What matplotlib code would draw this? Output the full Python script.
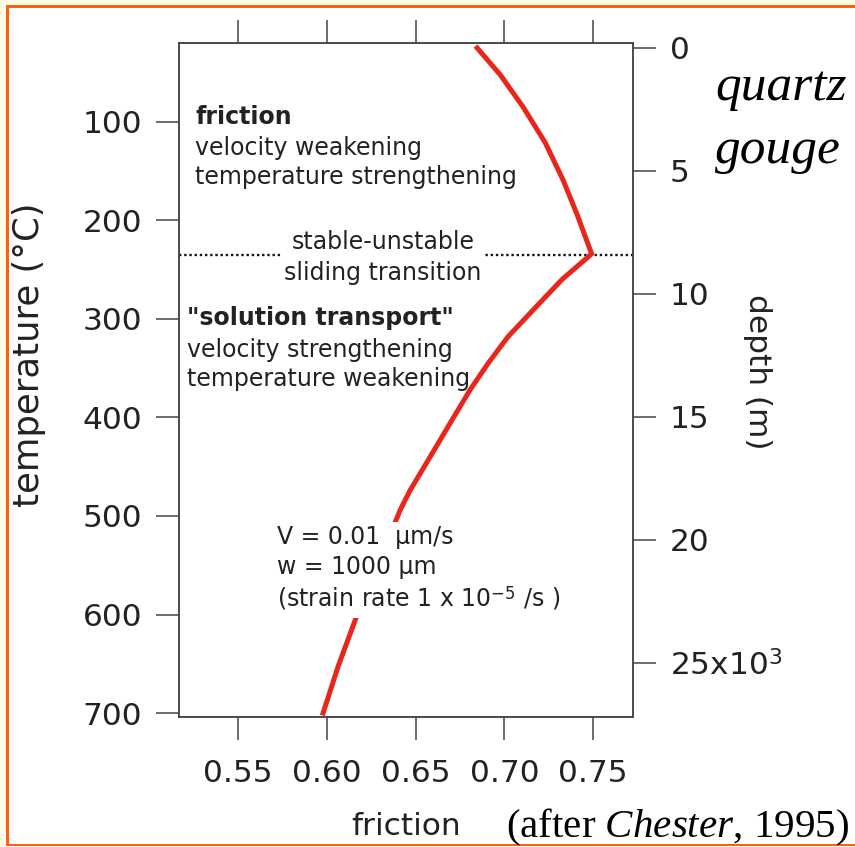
import matplotlib.pyplot as plt
from matplotlib.patches import Rectangle

plt.rcParams['font.family'] = 'DejaVu Sans'
plt.rcParams['mathtext.fontset'] = 'custom'
plt.rcParams['mathtext.rm'] = 'DejaVu Sans'
plt.rcParams['mathtext.it'] = 'Liberation Serif:italic'

# friction vs temperature
temperature = [25, 52, 85, 121, 159, 194, 234, 260, 291, 318, 345, 372, 406,
               440, 474, 494, 606, 653, 700]
friction = [0.6847, 0.6976, 0.7106, 0.7230, 0.7331, 0.7410, 0.7492, 0.7325,
            0.7162, 0.7021, 0.6909, 0.6807, 0.6694, 0.6582, 0.6469, 0.6413,
            0.6159, 0.6063, 0.5979]
T_TRANSITION = 235  # stable-unstable transition (degC)

x_ticks = [0.55, 0.60, 0.65, 0.70, 0.75]
x_ticklabels = ['0.55', '0.60', '0.65', '0.70', '0.75']
temp_ticks = [100, 200, 300, 400, 500, 600, 700]
depth_ticks = [0, 5000, 10000, 15000, 20000, 25000]
depth_ticklabels = ['0', '5', '10', '15', '20', '25x10$^3$']

INK = '#222222'
AXC = '#444444'
BORDER = '#ff5f14'

W, H = 855, 847
fig = plt.figure(figsize=(W / 100, H / 100), dpi=100)
fig.patch.set_facecolor('#fffde3')

# white panel with an orange frame on left/top/bottom (right side is cut off)
def strip(x, y, w, h, color):
    fig.add_artist(Rectangle((x / W, y / H), w / W, h / H, transform=fig.transFigure,
                             facecolor=color, edgecolor='none', lw=0, zorder=-5))

strip(7, 2, W - 7, 838, 'white')
strip(6, 839, W - 6, 2.5, BORDER)   # top
strip(6, 1, 2.5, 840, BORDER)       # left
strip(6, 1, W - 6, 2.5, BORDER)     # bottom

ax = fig.add_axes([179 / W, 130 / H, 454 / W, 674 / H])
ax.plot(friction, temperature, color='#e8261c', lw=3.6, zorder=2,
        solid_joinstyle='round')
ax.axhline(T_TRANSITION, color='#111111', lw=1.7, ls=(0, (1, 1.2)), zorder=1)

ax.set_xlim(0.5167, 0.7725)
ax.set_ylim(704, 20)
ax.set_xticks(x_ticks, x_ticklabels)
ax.set_yticks(temp_ticks)
ax.tick_params(direction='out', length=16.5, width=1.1, color=AXC, labelsize=22.5,
               labelcolor=INK, top=True, right=False)
ax.tick_params(axis='y', pad=10)
ax.tick_params(axis='x', pad=14)
for s in ax.spines.values():
    s.set_color(AXC)
    s.set_linewidth(1.1)

ax.set_xlabel('friction', fontsize=22.5, color=INK, va='baseline')
ax.xaxis.set_label_coords(0.5, -0.175)
ax.set_ylabel('temperature (°C)', fontsize=25.5, color=INK)
ax.yaxis.set_label_coords(-0.293, 0.537)

ax2 = ax.twinx()
ax2.set_ylim(27195, -200)
ax2.set_yticks(depth_ticks, depth_ticklabels)
ax2.tick_params(direction='out', length=16.5, width=1.1, color=AXC, labelsize=22.5,
                labelcolor=INK, pad=10)
for s in ax2.spines.values():
    s.set_color(AXC)
    s.set_linewidth(1.1)
ax2.set_ylabel('depth (m)', fontsize=22.5, color=INK, rotation=-90, va='bottom')
ax2.yaxis.set_label_coords(1.242, 0.512)

# annotations
fs = 17
ax.text(0.5258, 95, 'friction', fontsize=fs, fontweight='bold', color=INK, va='center')
ax.text(0.5258, 126.5, 'velocity weakening', fontsize=fs, color=INK, va='center')
ax.text(0.5258, 156, 'temperature strengthening', fontsize=fs, color=INK, va='center')

ax.text(0.6317, 238, 'stable-unstable\nsliding transition', fontsize=fs, color=INK,
        ha='center', va='center', linespacing=1.35, zorder=3,
        bbox=dict(facecolor='white', edgecolor='none', pad=1.5))

ax.text(0.5213, 299.5, '"solution transport"', fontsize=fs, fontweight='bold', color=INK, va='center')
ax.text(0.5213, 331.5, 'velocity strengthening', fontsize=fs, color=INK, va='center')
ax.text(0.5213, 360.5, 'temperature weakening', fontsize=fs, color=INK, va='center')

ax.text(0.572, 554, 'V = 0.01  μm/s\nw = 1000 μm\n(strain rate 1 x 10$^{-5}$ /s )',
        fontsize=fs, color=INK, ha='left', va='center', linespacing=1.3, zorder=3,
        bbox=dict(facecolor='white', edgecolor='none', pad=3))

fig.text(715 / W, 1 - 100 / H, 'quartz', family='Liberation Serif', style='italic',
         fontsize=37, color='black', va='baseline')
fig.text(715 / W, 1 - 163 / H, 'gouge', family='Liberation Serif', style='italic',
         fontsize=37, color='black', va='baseline')
fig.text(849 / W, 1 - 837 / H, r'(after $\mathit{Chester}$, 1995)', family='Liberation Serif',
         fontsize=29.5, color='black', ha='right', va='baseline')

fig.savefig('out.png', dpi=100, facecolor=fig.get_facecolor())
